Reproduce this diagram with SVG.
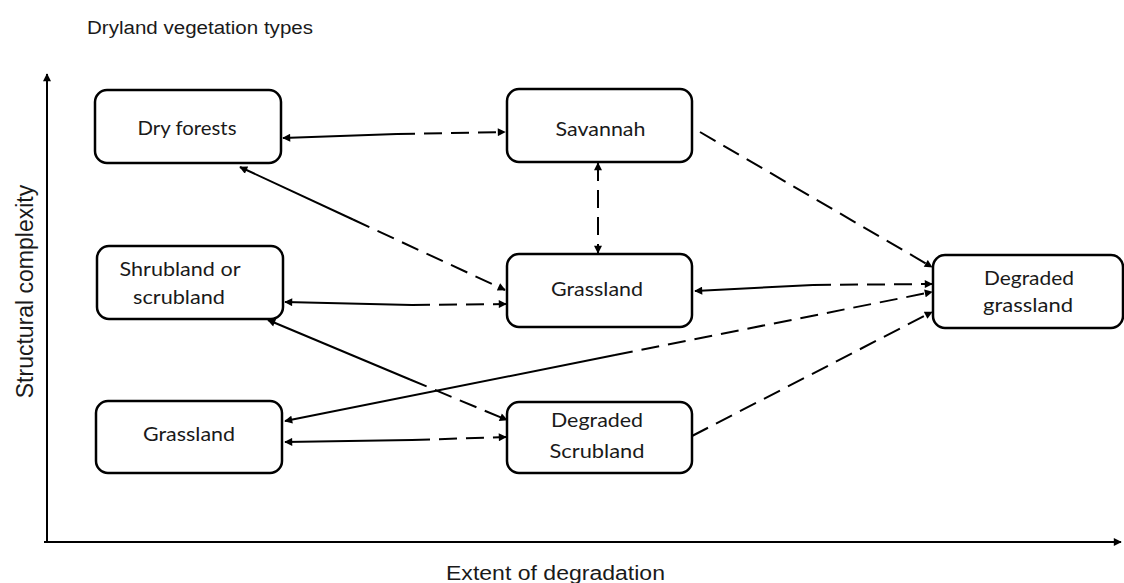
<svg xmlns="http://www.w3.org/2000/svg" width="1124" height="583" viewBox="0 0 1124 583">
  <style>
    .box { fill: #ffffff; stroke: #000000; stroke-width: 2.5; }
    .lbl { font-family: Lato, "Liberation Sans", sans-serif; font-size: 20px; fill: #1a1a1a; text-anchor: middle; }
    .axt { font-family: "Liberation Sans", Arial, sans-serif; fill: #1a1a1a; text-anchor: middle; }
    .ln { fill: none; stroke: #000000; stroke-width: 2; }
    .ds { fill: none; stroke: #000000; stroke-width: 2; stroke-dasharray: 18 9; }
    .ax { fill: none; stroke: #000000; stroke-width: 2; }
  </style>
  <defs>
    <marker id="ah" viewBox="0 0 10 10" refX="9" refY="5" markerWidth="10" markerHeight="8" markerUnits="userSpaceOnUse" orient="auto-start-reverse">
      <path d="M0,0 L10,5 L0,10 z" fill="#000000"/>
    </marker>
  </defs>
  <rect width="1124" height="583" fill="#ffffff"/>

  <text class="axt" x="200" y="34" font-size="18" textLength="226" lengthAdjust="spacingAndGlyphs">Dryland vegetation types</text>

  <g id="axes">
    <line class="ax" x1="47" y1="543" x2="47" y2="74" marker-end="url(#ah)"/>
    <line class="ax" x1="44" y1="542" x2="1121" y2="542" marker-end="url(#ah)"/>
    <text class="axt" font-size="20" x="555.5" y="580" textLength="219" lengthAdjust="spacingAndGlyphs">Extent of degradation</text>
    <text class="axt" font-size="23" transform="translate(33,291.5) rotate(-90)" x="0" y="0">Structural complexity</text>
  </g>

  <g id="connectors">
    <!-- Dry forests <-> Savannah -->
    <path class="ln" d="M283,138 L397,134" marker-start="url(#ah)"/>
    <path class="ds" d="M397,134 L505,132" marker-end="url(#ah)"/>
    <!-- Dry forests <-> Grassland (mid) -->
    <path class="ln" d="M240,167 L353,219.5" marker-start="url(#ah)"/>
    <path class="ds" d="M353,219.5 L505,290" marker-end="url(#ah)"/>
    <!-- Savannah <-> Grassland (mid) -->
    <path class="ds" d="M598,163 L598,253" marker-start="url(#ah)" marker-end="url(#ah)"/>
    <!-- Savannah -> Degraded grassland -->
    <path class="ds" d="M700,132 L932,267" marker-end="url(#ah)"/>
    <!-- Grassland (mid) <-> Degraded grassland -->
    <path class="ln" d="M695,291 L813,285" marker-start="url(#ah)"/>
    <path class="ds" d="M813,285 L932,284" marker-end="url(#ah)"/>
    <!-- Grassland (left) <-> Degraded grassland -->
    <path class="ln" d="M285,421 L615,355" marker-start="url(#ah)"/>
    <path class="ds" d="M615,355 L932,292" marker-end="url(#ah)"/>
    <!-- Grassland (left) <-> Degraded Scrubland -->
    <path class="ln" d="M285,442 L412,440" marker-start="url(#ah)"/>
    <path class="ds" d="M412,440 L506,437" marker-end="url(#ah)"/>
    <!-- Shrubland <-> Grassland (mid) -->
    <path class="ln" d="M285,302 L412,305" marker-start="url(#ah)"/>
    <path class="ds" d="M412,305 L506,304" marker-end="url(#ah)"/>
    <!-- Shrubland <-> Degraded Scrubland -->
    <path class="ln" d="M268,320 L410,379.5" marker-start="url(#ah)"/>
    <path class="ds" d="M410,379.5 L507,420" marker-end="url(#ah)"/>
    <!-- Degraded Scrubland -> Degraded grassland -->
    <path class="ds" d="M692,436 L932,312" marker-end="url(#ah)"/>
  </g>

  <g id="dry-forests">
    <rect class="box" x="95" y="90" width="186" height="73" rx="12"/>
    <text class="lbl" x="187" y="135" textLength="99" lengthAdjust="spacingAndGlyphs">Dry forests</text>
  </g>
  <g id="shrubland">
    <rect class="box" x="97" y="246" width="186" height="73" rx="12"/>
    <text class="lbl" x="180" y="276" textLength="121" lengthAdjust="spacingAndGlyphs">Shrubland or</text>
    <text class="lbl" x="179" y="304" textLength="92" lengthAdjust="spacingAndGlyphs">scrubland</text>
  </g>
  <g id="grassland-left">
    <rect class="box" x="96" y="401" width="186" height="72" rx="12"/>
    <text class="lbl" x="189" y="441" textLength="92" lengthAdjust="spacingAndGlyphs">Grassland</text>
  </g>
  <g id="savannah">
    <rect class="box" x="507" y="89" width="185" height="73" rx="12"/>
    <text class="lbl" x="600.5" y="136" textLength="90" lengthAdjust="spacingAndGlyphs">Savannah</text>
  </g>
  <g id="grassland-mid">
    <rect class="box" x="507" y="254" width="185" height="73" rx="12"/>
    <text class="lbl" x="597" y="296" textLength="92" lengthAdjust="spacingAndGlyphs">Grassland</text>
  </g>
  <g id="degraded-scrubland">
    <rect class="box" x="507" y="402" width="185" height="71" rx="12"/>
    <text class="lbl" x="597" y="427" textLength="92" lengthAdjust="spacingAndGlyphs">Degraded</text>
    <text class="lbl" x="597" y="458" textLength="95" lengthAdjust="spacingAndGlyphs">Scrubland</text>
  </g>
  <g id="degraded-grassland">
    <rect class="box" x="933" y="255" width="190" height="73" rx="12"/>
    <text class="lbl" x="1029" y="285" textLength="90" lengthAdjust="spacingAndGlyphs">Degraded</text>
    <text class="lbl" x="1028" y="312" textLength="90" lengthAdjust="spacingAndGlyphs">grassland</text>
  </g>
</svg>
